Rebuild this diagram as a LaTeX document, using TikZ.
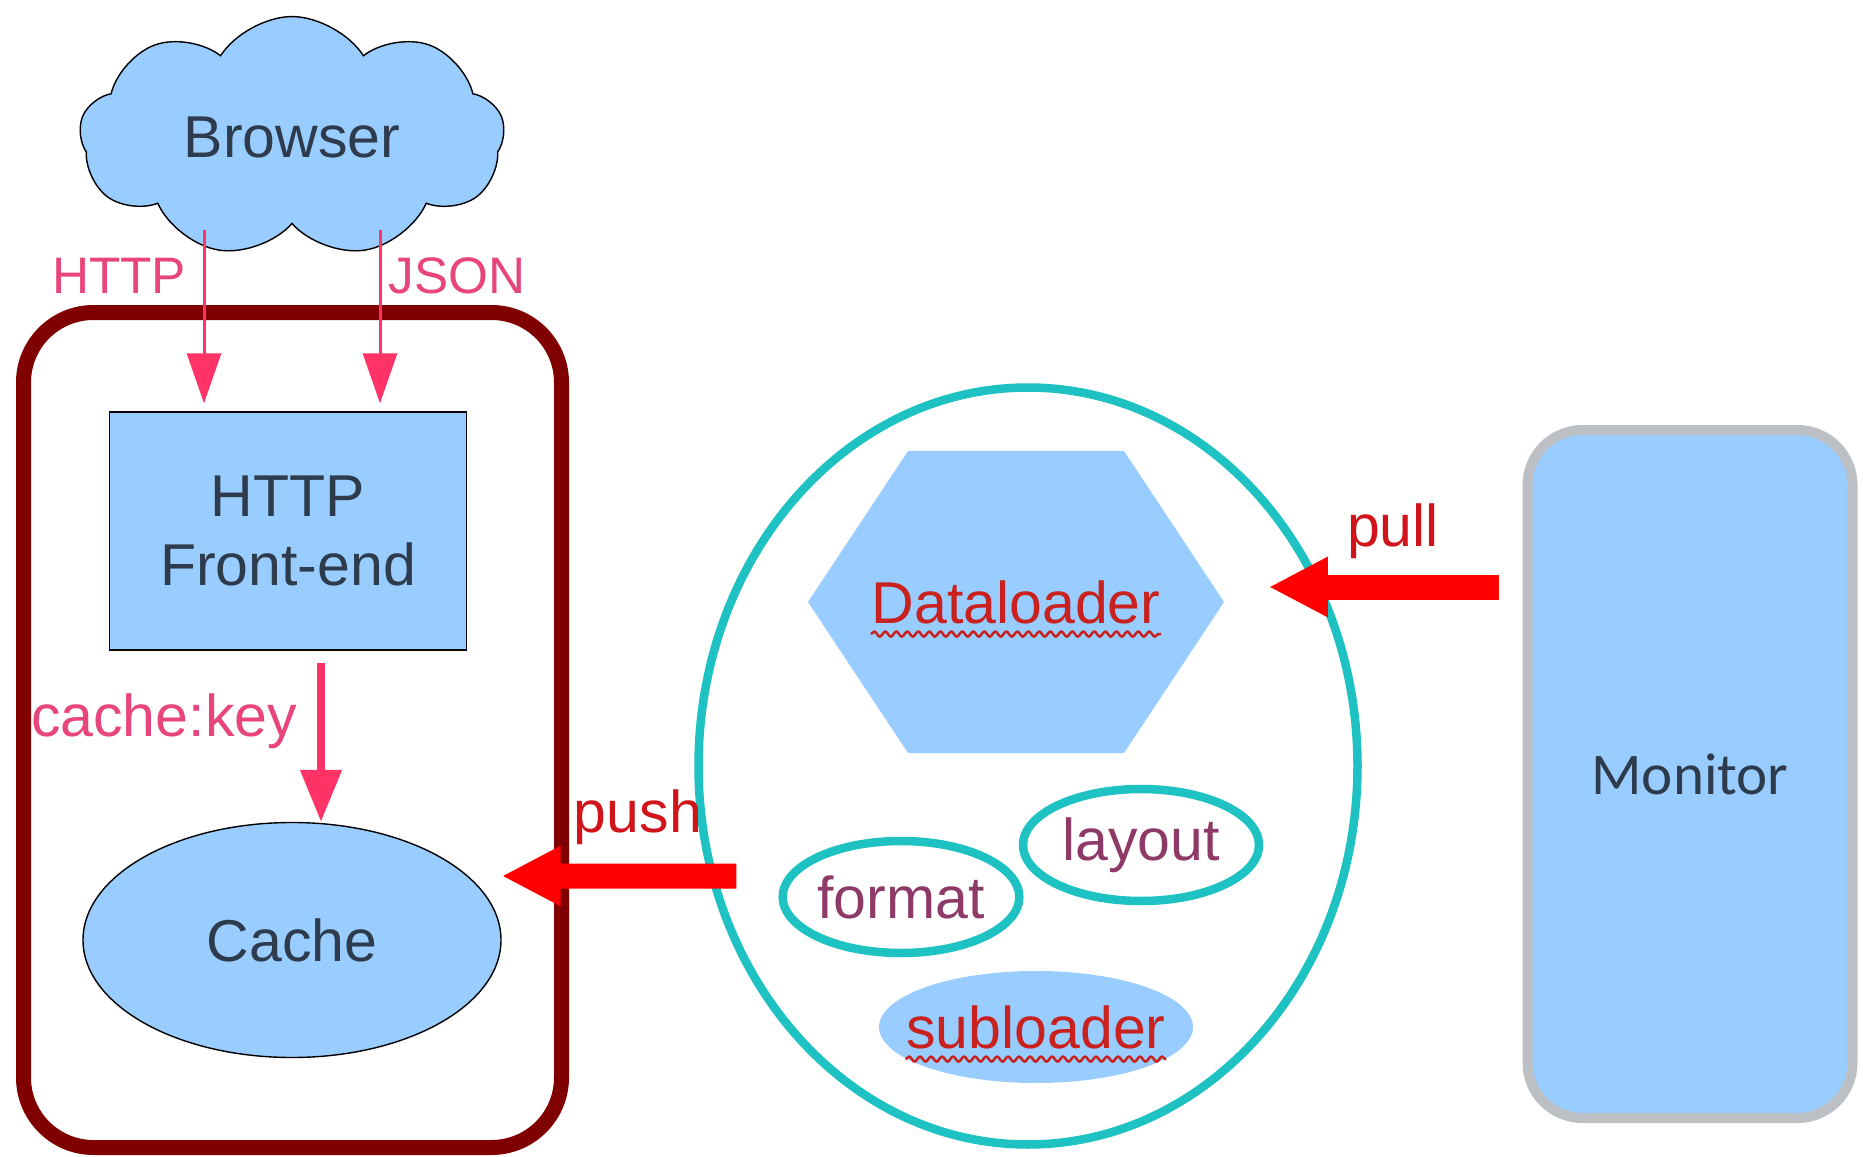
\documentclass[tikz,border=0pt]{standalone}
\usepackage{fontspec}
\setmainfont{Liberation Sans}
\newfontfamily\monitorfont{Carlito}
\usepackage{xcolor}
\usetikzlibrary{shapes.geometric,shapes.symbols,arrows.meta,decorations.pathmorphing}

\definecolor{boxblue}{HTML}{99CCFF}
\definecolor{darktext}{HTML}{2D3B4C}
\definecolor{pinkline}{HTML}{FF3366}
\definecolor{pinktext}{HTML}{E8457A}
\definecolor{maroon}{HTML}{800000}
\definecolor{teal}{HTML}{1EC2C2}
\definecolor{pushred}{HTML}{FF0000}
\definecolor{labelred}{HTML}{D0141A}
\definecolor{spellred}{HTML}{C9211E}
\definecolor{plum}{HTML}{8E3A68}
\definecolor{monitorgray}{HTML}{BCBFC4}

\begin{document}
\begin{tikzpicture}[x=0.1mm,y=-0.1mm,
    every node/.style={font=\fontsize{16.8}{19.5}\selectfont, text=darktext},
    container/.style={draw=maroon, line width=1.5mm, rounded corners=7mm,
        minimum width=53.8mm, minimum height=83.5mm},
    cloudnode/.style={cloud, cloud puffs=9, cloud puff arc=115, aspect=1.8,
        draw=black, thin, fill=boxblue, minimum width=42.5mm, minimum height=23mm},
    blockbox/.style={rectangle, draw=black, thin, fill=boxblue,
        minimum width=35.7mm, minimum height=23.8mm},
    blockell/.style={ellipse, draw=black, thin, fill=boxblue,
        minimum width=41.8mm, minimum height=23.5mm},
    groupell/.style={ellipse, draw=teal, line width=0.85mm,
        minimum width=65.9mm, minimum height=75.7mm},
    subell/.style={ellipse, draw=teal, line width=0.85mm, text=plum, inner sep=0pt,
        minimum width=23.6mm, minimum height=11.2mm},
    subfill/.style={ellipse, fill=boxblue,
        minimum width=31.4mm, minimum height=11.2mm},
    monitorbox/.style={rectangle, rounded corners=5.5mm, draw=monitorgray,
        line width=1mm, fill=boxblue, minimum width=32.5mm, minimum height=68.8mm},
    pinklabel/.style={text=pinktext, font=\fontsize{14.6}{17}\selectfont},
    redlabel/.style={text=labelred},
    redtext/.style={text=spellred, inner xsep=0pt},
    thinarrow/.style={draw=pinkline, line width=0.3mm,
        -{Triangle[length=5mm, width=3.4mm]}, shorten >=0.8mm, shorten <=0.6mm},
    keyarrow/.style={draw=pinkline, line width=0.8mm,
        -{Triangle[length=5.2mm, width=4mm]}, shorten <=1.2mm},
    bigarrow/.style={draw=pushred, line width=2.5mm,
        -{Triangle[length=5.9mm, width=5.6mm]}},
    squiggle/.style={draw=spellred, line width=0.25mm,
        decorate, decoration={snake, amplitude=0.25mm, segment length=1.1mm}}
    ]
    \useasboundingbox (0,0) rectangle (1863,1157);

    %% Front-end side
    \node[container] (frontside) at (292.5,730) {};
    \node[cloudnode] (browser) at (292,137) {Browser};
    \node[blockbox, align=center] (front) at (288,531) {HTTP\\Front-end};
    \node[blockell] (cache) at (292,940) {Cache};

    %% Arrows into the front-end
    \coordinate (httpx) at (204,0);
    \coordinate (jsonx) at (380,0);
    \coordinate (keyx) at (321,0);
    \draw[thinarrow] (browser.south -| httpx) -- (front.north -| httpx);
    \draw[thinarrow] (browser.south -| jsonx) -- (front.north -| jsonx);
    \draw[keyarrow] (front.south -| keyx) -- (cache.north -| keyx);

    \node[pinklabel] (httplbl) at (119,276) {HTTP};
    \node[pinklabel] (jsonlbl) at (457,276) {JSON};
    \node[pinklabel, font=\fontsize{16.8}{19.5}\selectfont] (keylbl) at (164,721) {cache:key};

    %% Dataloader group
    \node[groupell] (loader) at (1028,766) {};
    \coordinate (dl) at (1016,602);
    \fill[boxblue] (dl) ++(-208,0) -- ++(100,-151) -- ++(216,0) -- ++(100,151)
        -- ++(-100,151) -- ++(-216,0) -- cycle;
    \node[redtext] (dataloader) at (dl) {Dataloader};
    \draw[squiggle] ([yshift=-1.1mm]dataloader.base west) -- ([yshift=-1.1mm]dataloader.base east);

    \node[subell] (format) at (901,897) {format};
    \node[subell] (layout) at (1141,845) {layout};
    \node[subfill] (subloader) at (1036,1027) {};
    \node[redtext] (subtext) at (subloader.center) {subloader};
    \draw[squiggle] ([yshift=-1.1mm]subtext.base west) -- ([yshift=-1.1mm]subtext.base east);

    %% Monitor
    \node[monitorbox] (monitor) at (1690,774) {\monitorfont Monitor};

    %% Push and pull
    \draw[bigarrow] ([shift={(42,110)}]loader.west) -- ([yshift=6.4mm]cache.east);
    \node[redlabel] (pushlbl) at (638,817) {push};
    \draw[bigarrow] ([shift={(-24,-187)}]monitor.west) -- ([shift={(-93,-179)}]loader.east);
    \node[redlabel] (pulllbl) at (1393,531) {pull};
\end{tikzpicture}
\end{document}
